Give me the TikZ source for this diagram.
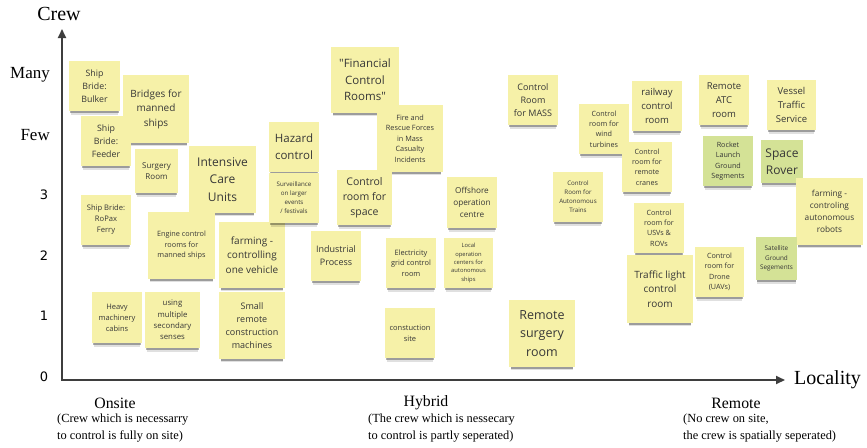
\documentclass[tikz,border=0pt]{standalone}
\usepackage{fontspec}
\setmainfont{Liberation Serif}
\newfontfamily\osans{Open Sans}
\newfontfamily\dvs{DejaVu Sans}
\usetikzlibrary{shadows,arrows.meta}
\definecolor{stickyY}{RGB}{246,241,168}
\definecolor{stickyG}{RGB}{212,226,150}
\definecolor{txt}{RGB}{55,55,55}
\definecolor{axisc}{RGB}{62,62,62}
\newcommand\stk[1]{\osans\fontsize{#1}{\fpeval{#1*1.45}}\selectfont}
\newcommand\srf[1]{\fontsize{#1}{\fpeval{#1*1.3}}\selectfont}
\tikzset{
  sticky/.style={fill=stickyY, inner sep=0pt, outer sep=0pt, align=center, text=txt,
    general shadow={fill=black, opacity=0.12, shadow scale=0.93, shadow yshift=-6pt},
    general shadow={fill=black, opacity=0.30, shadow scale=0.95, shadow yshift=-3.5pt}},
  greenst/.style={sticky, fill=stickyG},
  sz/.style 2 args={minimum width=#1pt, minimum height=#2pt},
  axis/.style={draw=axisc, line width=2pt, line join=miter,
    {Triangle[length=9pt,width=8pt]}-{Triangle[length=9pt,width=8pt]}},
  axlab/.style={text=black, inner sep=0pt},
  numlab/.style={text=black, inner sep=0pt, font=\dvs\fontsize{13}{15}\selectfont},
  desc/.style={text=black, inner sep=0pt, align=left, font=\srf{12.4}},
  cat/.style={text=black, inner sep=0pt, font=\srf{15.8}}
}
\begin{document}
\begin{tikzpicture}[x=1pt, y=-1pt]
\useasboundingbox[fill=white] (0,0) rectangle (867,447);

% axes
\coordinate (ytip) at (62,29);
\coordinate (xtip) at (785,380);
\draw[axis] (ytip) |- (xtip);

\node[axlab, font=\srf{20}] (crew) at (59,14) {Crew};
\node[axlab, font=\srf{20}, anchor=west] (loc) at (794,380) {Locality};
\node[axlab, font=\srf{17}, anchor=east] (many) at (50,75) {Many};
\node[axlab, font=\srf{17}, anchor=east] (few) at (50,135) {Few};
\node[numlab] (n3) at (44,195) {3};
\node[numlab] (n2) at (44,256) {2};
\node[numlab] (n1) at (44,316) {1};
\node[numlab] (n0) at (44,377) {0};

\node[cat] (onsite) at (115,403) {Onsite};
\node[desc, anchor=west] (onsited) at (57,428) {(Crew which is necessarry\\to control is fully on site)};
\node[cat] (hybrid) at (426,403) {Hybrid};
\node[desc, anchor=west] (hybridd) at (368,428) {(The crew which is nessecary\\to control is partly seperated)};
\node[cat] (remote) at (736,403) {Remote};
\node[desc, anchor=west] (remoted) at (683,428) {(No crew on site,\\the crew is spatially seperated)};

% onsite stickies
\node[sticky, sz={51}{50}, font=\stk{8.8}] (bulker) at (94.5,86) {Ship\\Bride:\\Bulker};
\node[sticky, sz={66}{68}, font=\stk{10}] (bridges) at (156,109) {Bridges for\\manned\\ships};
\node[sticky, sz={50}{50}, font=\stk{8.8}] (feeder) at (106,141) {Ship\\Bride:\\Feeder};
\node[sticky, sz={43}{44}, font=\stk{8}] (surgery) at (156.5,171) {Surgery\\Room};
\node[sticky, sz={67}{67}, font=\stk{12}] (icu) at (222.5,179.5) {Intensive\\Care\\Units};
\node[sticky, sz={50}{50}, font=\stk{7.6}] (ropax) at (106,220) {Ship Bride:\\RoPax\\Ferry};
\node[sticky, sz={67}{67}, font=\stk{7.3}] (engine) at (181.5,245.5) {Engine control\\rooms for\\manned ships};
\node[sticky, sz={66}{66}, font=\stk{10}] (farm1) at (252,255) {farming -\\controlling\\one vehicle};
\node[sticky, sz={50}{51}, font=\stk{7.5}] (heavy) at (117,317.5) {Heavy\\machinery\\cabins};
\node[sticky, sz={55}{56}, font=\stk{7.8}] (senses) at (172.5,320) {using\\multiple\\secondary\\senses};
\node[sticky, sz={66}{67}, font=\stk{9}] (smallrc) at (252,325.5) {Small\\remote\\construction\\machines};

% hybrid stickies
\node[sticky, sz={68}{66}, font=\stk{11.5}] (financial) at (365,80) {"Financial\\Control\\Rooms"};
\node[sticky, sz={66}{67}, font=\stk{7.3}] (fire) at (410,138.5) {Fire and\\Rescue Forces\\in Mass\\Casualty\\Incidents};
\node[sticky, sz={50}{50}, font=\stk{11.5}] (hazard) at (294,147) {Hazard\\control};
\node[sticky, sz={50}{50}, font=\stk{6.2}] (surveil) at (294,198) {Surveillance\\on larger\\events\\/ festivals};
\node[sticky, sz={55}{55}, font=\stk{10.5}] (space) at (364.5,197.5) {Control\\room for\\space};
\node[sticky, sz={50}{51}, font=\stk{8.2}] (offshore) at (472,202.5) {Offshore\\operation\\centre};
\node[sticky, sz={50}{50}, font=\stk{9}] (industrial) at (336,256) {Industrial\\Process};
\node[sticky, sz={50}{50}, font=\stk{7.4}] (grid) at (411,263) {Electricity\\grid control\\room};
\node[sticky, sz={49}{50}, font=\stk{5.8}] (localops) at (468.5,263) {Local\\operation\\centers for\\autonomous\\ships};
\node[sticky, sz={50}{50}, font=\stk{7.5}] (constr) at (410,333) {constuction\\site};
\node[sticky, sz={66}{67}, font=\stk{12.5}] (remsurg) at (542,333.5) {Remote\\surgery\\room};

% remote stickies
\node[sticky, sz={50}{50}, font=\stk{9}] (mass) at (533,100) {Control\\Room\\for MASS};
\node[sticky, sz={50}{50}, font=\stk{7.2}] (wind) at (604,129) {Control\\room for\\wind\\turbines};
\node[sticky, sz={50}{50}, font=\stk{9.5}] (railway) at (657,106) {railway\\control\\room};
\node[sticky, sz={50}{50}, font=\stk{7.2}] (cranes) at (647,167) {Control\\room for\\remote\\cranes};
\node[sticky, sz={50}{50}, font=\stk{6.2}] (trains) at (578,197) {Control\\Room for\\Autonomous\\Trains};
\node[sticky, sz={50}{50}, font=\stk{7.2}] (usv) at (659,228) {Control\\room for\\USVs \&\\ROVs};
\node[sticky, sz={50}{50}, font=\stk{9.5}] (atc) at (724,100) {Remote\\ATC\\room};
\node[sticky, sz={49}{50}, font=\stk{9.5}] (vts) at (791.5,105) {Vessel\\Traffic\\Service};
\node[greenst, sz={50}{50}, font=\stk{7.2}] (rocket) at (728,161) {Rocket\\Launch\\Ground\\Segments};
\node[greenst, sz={42}{43}, font=\stk{12}] (rover) at (782,161.5) {Space\\Rover};
\node[sticky, sz={67}{67}, font=\stk{8.3}] (farm2) at (829.5,211.5) {farming -\\controling\\autonomous\\robots};
\node[sticky, sz={66}{68}, font=\stk{10}] (traffic) at (660,289) {Traffic light\\control\\room};
\node[sticky, sz={49}{50}, font=\stk{7.2}] (drone) at (719.5,272) {Control\\room for\\Drone\\(UAVs)};
\node[greenst, sz={41}{43}, font=\stk{6.4}] (sat) at (776.5,258.5) {Satellite\\Ground\\Segements};
\end{tikzpicture}
\end{document}
